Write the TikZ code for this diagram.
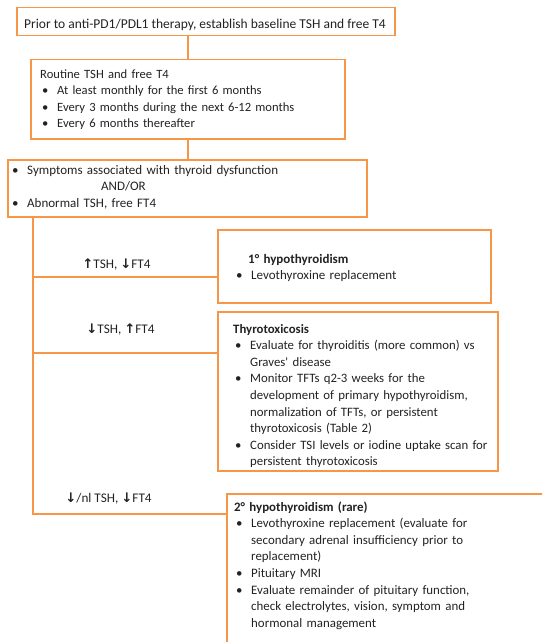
\documentclass[tikz,border=0pt]{standalone}
\usepackage{fontspec}
\setmainfont{Carlito}
\newfontfamily\arrfont{DejaVu Sans}
\definecolor{flowor}{HTML}{F79646}
\definecolor{flowtxt}{HTML}{222222}
\newcommand{\uparr}{{\arrfont\bfseries ↑}}
\newcommand{\dnarr}{{\arrfont\bfseries ↓}}
\newcommand{\bmark}{\makebox[17pt][l]{\hspace*{2pt}\textbullet}}
\newenvironment{blist}{\begin{list}{\textbullet}{\setlength{\leftmargin}{17pt}\setlength{\labelwidth}{17pt}\setlength{\labelsep}{0pt}\setlength{\itemsep}{0pt}\setlength{\parsep}{0pt}\setlength{\topsep}{0pt}\setlength{\partopsep}{0pt}\def\makelabel##1{\hspace*{2pt}##1\hfil}}}{\end{list}}

\begin{document}
\begin{tikzpicture}[x=1pt,y=-1pt,
  box/.style={draw=flowor,line width=1.5pt,anchor=north west,inner sep=0pt},
  txt/.style={anchor=base west,inner sep=0pt,text width=300pt,text=flowtxt,font=\fontsize{#1}{16.6}\selectfont\raggedright},
  lbl/.style={anchor=base,inner sep=0pt,text=flowtxt,font=\fontsize{13.2}{16.6}\selectfont},
  conn/.style={draw=flowor,line width=1.5pt}]
\useasboundingbox (0,0) rectangle (542,642);
\clip (0,0) rectangle (542,642);
\node[box,minimum width=378pt,minimum height=28pt] (pre) at (16,7) {};
\node[box,minimum width=314pt,minimum height=79pt] (rout) at (30,59) {};
\node[box,minimum width=359pt,minimum height=57pt] (sym) at (7,159) {};
\node[box,minimum width=273pt,minimum height=73pt] (hypo) at (217,229) {};
\node[box,minimum width=280pt,minimum height=159pt] (toxic) at (217,311) {};
\node[box,minimum width=400pt,minimum height=250pt] (sec) at (226,493) {};
\node[lbl,font=\fontsize{13.5}{16.6}\selectfont] (pretxt) at (205,29) {Prior to anti-PD1/PDL1 therapy, establish baseline TSH and free T4};
\node[txt=12.6] (routtxt) at (40,78) {Routine TSH and free T4
  \begin{blist}
  \item At least monthly for the first 6 months
  \item Every 3 months during the next 6-12 months
  \item Every 6 months thereafter
  \end{blist}};
\node[txt=13] (symtxt) at (10,174) {\bmark Symptoms associated with thyroid dysfunction\\
  \hspace*{91pt}AND/OR\\
  \bmark Abnormal TSH, free FT4};
\node[txt=13] (hypotxt) at (234,263) {\hspace*{14pt}\textbf{1° hypothyroidism}
  \begin{blist}
  \item Levothyroxine replacement
  \end{blist}};
\node[txt=12.8] (toxictxt) at (233,333) {\textbf{Thyrotoxicosis}
  \begin{blist}
  \item Evaluate for thyroiditis (more common) vs\newline Graves\textquotesingle\ disease
  \item Monitor TFTs q2-3 weeks for the\newline development of primary hypothyroidism,\newline normalization of TFTs, or persistent\newline thyrotoxicosis (Table 2)
  \item Consider TSI levels or iodine uptake scan for\newline persistent thyrotoxicosis
  \end{blist}};
\node[txt=12.9] (sectxt) at (234,511) {\textbf{2° hypothyroidism (rare)}
  \begin{blist}
  \item Levothyroxine replacement (evaluate for\newline secondary adrenal insufficiency prior to\newline replacement)
  \item Pituitary MRI
  \item Evaluate remainder of pituitary function,\newline check electrolytes, vision, symptom and\newline hormonal management
  \end{blist}};
\node[lbl] (lbhypo) at (116.5,268) {\uparr TSH, \dnarr FT4};
\node[lbl] (lbtoxic) at (120.5,333) {\dnarr TSH, \uparr FT4};
\node[lbl] (lbsec) at (108.5,502) {\dnarr/nl TSH, \dnarr FT4};
\coordinate (spine) at (188,0);
\coordinate (b1) at (33,277);
\coordinate (b2) at (33,353);
\coordinate (b3) at (33,514);
\draw[conn] (pre.south -| spine) -- (rout.north -| spine);
\draw[conn] (rout.south -| spine) -- (sym.north -| spine);
\draw[conn] (sym.south -| b1) -- (b3) -- (b3 -| sec.west);
\draw[conn] (b1) -- (b1 -| hypo.west);
\draw[conn] (b2) -- (b2 -| toxic.west);
\end{tikzpicture}
\end{document}
